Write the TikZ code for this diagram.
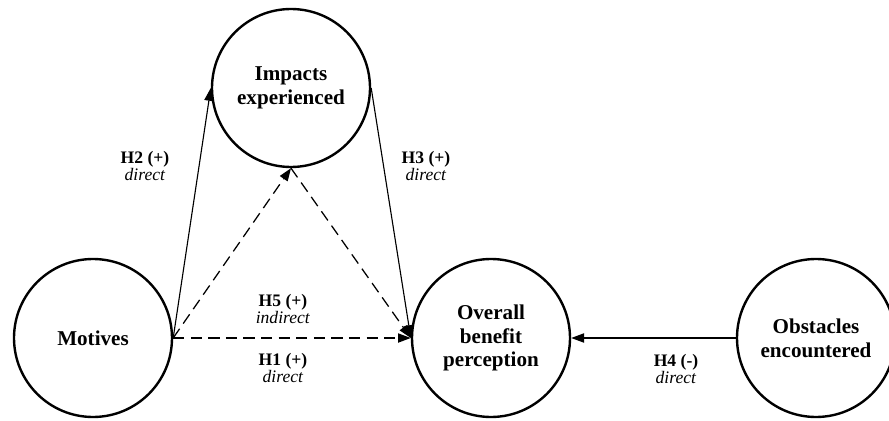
\documentclass[tikz,border=0pt]{standalone}
\usepackage{fontspec}
\setmainfont{Liberation Serif}
\usetikzlibrary{arrows.meta,positioning}

\begin{document}
\begin{tikzpicture}[
  construct/.style={draw, circle, line width=1.7pt, minimum size=3.95cm, inner sep=0pt,
                    align=center, font=\fontsize{15}{17}\selectfont\bfseries},
  hyp/.style={align=center, font=\fontsize{12.5}{12.5}\selectfont, inner sep=1pt},
  arr/.style={-{Triangle[length=3.2mm, width=2.3mm]}, line width=0.8pt},
  ind/.style={arr, line width=0.9pt, dash pattern=on 8pt off 4.5pt}
]
\useasboundingbox (0,0) rectangle (22.225,10.5);

% ---------------- constructs ----------------
\node[construct] (mot) at (2.325, 2.05) {Motives};
\node[construct] (imp) at (7.275, 8.3) {Impacts\\experienced};
\node[construct] (ovr) at (12.275, 2.05) {Overall\\benefit\\perception};
\node[construct] (obs) at (20.4, 2.05) {Obstacles\\encountered};

% ---------------- direct paths ----------------
\draw[arr] (mot.east) -- (imp.west);
\draw[arr] (imp.east) -- (ovr.west);
\draw[ind] (mot.east) -- (ovr.west);
\draw[arr] (obs.west) -- (ovr.east);

% ---------------- indirect path ----------------
\draw[ind] (mot.east) -- (imp.south);
\draw[ind] (imp.south) -- (ovr.west);

% ---------------- hypotheses ----------------
\node[hyp] (h2) at (3.625, 6.35) {\textbf{H2 (+)}\\\textit{direct}};
\node[hyp] (h3) at (10.65, 6.35) {\textbf{H3 (+)}\\\textit{direct}};
\node[hyp] (h5) at (7.075, 2.775) {\textbf{H5 (+)}\\\textit{indirect}};
\node[hyp] (h1) at (7.075, 1.3) {\textbf{H1 (+)}\\\textit{direct}};
\node[hyp] (h4) at (16.9, 1.275) {\textbf{H4 (-)}\\\textit{direct}};

\end{tikzpicture}
\end{document}
